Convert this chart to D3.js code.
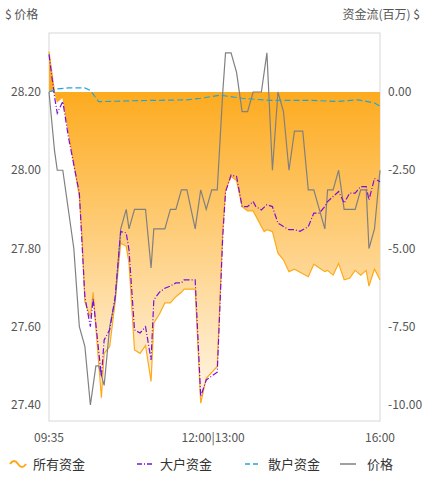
<!DOCTYPE html>
<html><head><meta charset="utf-8">
<script src="https://cdn.jsdelivr.net/npm/d3@7"></script>
<style>body{margin:0;background:#fff}text{font-family:"Noto Sans CJK SC","Noto Sans",sans-serif}</style>
</head><body><svg id="c" width="425" height="481"></svg>
<script>
// data; t = slot index 0..120 along the time axis
var xTicks = [[0, "09:35"], [59.5, "12:00|13:00"], [120, "16:00"]]
var priceTicks = [28.2, 28.0, 27.8, 27.6, 27.4]
var flowTicks = [0, -2.5, -5, -7.5, -10]
var legendNames = ["所有资金", "大户资金", "散户资金", "价格"]
var allFlow = [[0,1.29],[2,0],[3,-0.31],[5,-0.15],[7,-1.21],[11,-3.34],[12,-4.62],[13,-6.7],[15,-7.2],[16,-6.4],[19,-9.77],[20,-8.35],[22,-8.13],[24,-6.7],[26,-4.83],[28,-4.93],[29,-5.46],[31,-8.24],[33,-8.35],[35,-8.1],[37,-9.25],[38,-7.38],[40,-7.1],[42,-6.74],[44,-6.74],[46,-6.54],[48,-6.4],[49,-6.3],[53,-6.3],[55,-9.94],[57,-9.15],[61,-8.77],[63,-4.4],[64,-3.13],[66,-2.7],[68,-2.83],[70,-3.66],[72,-3.8],[74,-3.8],[78,-4.46],[79,-4.4],[81,-4.46],[83,-5.15],[85,-5.36],[87,-5.74],[89,-5.66],[94,-5.9],[96,-5.5],[100,-5.74],[101,-5.7],[103,-5.85],[105,-5.48],[107,-6.0],[109,-5.95],[111,-5.7],[113,-5.85],[115,-5.7],[116,-6.2],[118,-5.66],[120,-6.0]]
var bigFlow = [[0,1.2],[2,-0.15],[3,-0.68],[5,-0.3],[7,-1.42],[11,-3.23],[13,-6.54],[15,-7.5],[16,-6.6],[19,-9.09],[20,-7.92],[22,-7.6],[24,-6.54],[26,-4.46],[28,-4.5],[29,-5.05],[31,-7.6],[33,-7.7],[35,-7.5],[37,-8.56],[38,-6.64],[40,-6.4],[42,-6.27],[44,-6.2],[46,-6.1],[48,-6.1],[49,-6.0],[53,-6.0],[55,-9.73],[57,-9.2],[61,-8.95],[63,-4.6],[64,-3.2],[66,-2.65],[68,-2.7],[70,-3.66],[72,-3.66],[74,-3.5],[75,-3.66],[77,-3.77],[79,-3.6],[81,-3.66],[83,-4.19],[85,-4.3],[87,-4.4],[89,-4.4],[91,-4.45],[94,-4.3],[96,-3.87],[98,-3.87],[100,-3.66],[101,-3.5],[103,-3.34],[105,-3.18],[107,-3.55],[109,-3.23],[111,-3.23],[113,-3.02],[115,-3.02],[116,-3.45],[118,-2.76],[120,-2.87]]
var retailFlow = [[0,0],[3,0.1],[7,0.13],[13,0.13],[15,0.05],[18,-0.31],[30,-0.28],[50,-0.25],[55,-0.2],[62,-0.1],[70,-0.2],[80,-0.27],[95,-0.27],[105,-0.3],[112,-0.25],[118,-0.35],[120,-0.45]]
var price = [[0,28.2],[2,28.05],[3,28.0],[5,28.0],[9,27.8],[11,27.6],[13,27.55],[15,27.4],[17,27.5],[18,27.5],[20,27.45],[22,27.6],[24,27.67],[26,27.85],[28,27.9],[29,27.85],[31,27.9],[35,27.9],[37,27.75],[38,27.85],[42,27.85],[44,27.9],[46,27.9],[48,27.95],[50,27.95],[53,27.85],[55,27.95],[57,27.9],[59,27.95],[61,27.95],[63,28.2],[64,28.3],[66,28.3],[68,28.25],[70,28.15],[72,28.15],[74,28.2],[77,28.2],[79,28.3],[81,28.0],[83,28.2],[85,28.15],[87,28.0],[89,28.1],[92,28.1],[94,27.95],[96,27.95],[100,27.85],[101,27.95],[103,27.95],[105,28.0],[107,27.9],[111,27.9],[113,27.95],[115,27.95],[116,27.8],[118,27.85],[120,28.0]]

var svg = d3.select("#c")
var L = 49, R = 380, T = 33, B = 421
var x = d3.scaleLinear().domain([0, 120]).range([L, R])
var yP = d3.scaleLinear().domain([27.4, 28.2]).range([405, 92])
var yF = d3.scaleLinear().domain([-10, 0]).range([405, 92])

var grad = svg.append("defs").append("linearGradient").attr("id", "g")
   .attr("gradientUnits", "userSpaceOnUse").attr("x1", 0).attr("x2", 0).attr("y1", yF(0)).attr("y2", yF(-10))
grad.append("stop").attr("offset", 0).attr("stop-color", "#fdab1f")
grad.append("stop").attr("offset", 1).attr("stop-color", "#fff7ea")

svg.append("rect").attr("x", L).attr("y", T).attr("width", R - L).attr("height", B - T)
   .attr("fill", "none").attr("stroke", "#d8d8d8")

svg.append("path").datum(allFlow).attr("fill", "url(#g)")
   .attr("d", d3.area().x(d => x(d[0])).y0(yF(0)).y1(d => yF(d[1])))
svg.append("path").datum(allFlow).attr("fill", "none").attr("stroke", "#ffa91a").attr("stroke-width", 1.2)
   .attr("d", d3.line().x(d => x(d[0])).y(d => yF(d[1])))
svg.append("path").datum(price).attr("fill", "none").attr("stroke", "#808080").attr("stroke-width", 1.2)
   .attr("d", d3.line().x(d => x(d[0])).y(d => yP(d[1])))
svg.append("path").datum(bigFlow).attr("fill", "none").attr("stroke", "#7a10d8").attr("stroke-width", 1.2)
   .attr("stroke-dasharray", "6,2,1,2")
   .attr("d", d3.line().x(d => x(d[0])).y(d => yF(d[1])))
svg.append("path").datum(retailFlow).attr("fill", "none").attr("stroke", "#21a6d4").attr("stroke-width", 1.2)
   .attr("stroke-dasharray", "6,3")
   .attr("d", d3.line().x(d => x(d[0])).y(d => yF(d[1])))

var lbl = {fill: "#555", "font-size": 12}
priceTicks.forEach(function(v){
   svg.append("text").attr("x", 41).attr("y", yP(v) + 4).attr("text-anchor", "end")
      .attr("fill", "#555").attr("font-size", 12).text(v.toFixed(2))
})
flowTicks.forEach(function(v){
   svg.append("text").attr("x", 388).attr("y", yF(v) + 4)
      .attr("fill", "#555").attr("font-size", 12).text(v.toFixed(2))
})
xTicks.forEach(function(t, i){
   svg.append("text").attr("x", x(t[0])).attr("y", 442)
      .attr("text-anchor", i == 0 ? "middle" : i == 2 ? "middle" : "middle")
      .attr("fill", "#555").attr("font-size", 12).text(t[1])
})
svg.append("text").attr("x", 5).attr("y", 19).attr("fill", "#555").attr("font-size", 12).text("$ 价格")
svg.append("text").attr("x", 420).attr("y", 19).attr("text-anchor", "end").attr("fill", "#555").attr("font-size", 12).text("资金流(百万) $")

// legend
var lx = [10, 137, 245, 340]
var lg = svg.append("g").attr("transform", "translate(0,464)")
lg.append("path").attr("d", "M" + lx[0] + ",0 q4,-6 8,0 t8,0").attr("fill", "none").attr("stroke", "#ffa91a").attr("stroke-width", 2)
lg.append("line").attr("x1", lx[1]).attr("x2", lx[1] + 16).attr("stroke", "#7a10d8").attr("stroke-width", 1.5).attr("stroke-dasharray", "5,2,1,2")
lg.append("line").attr("x1", lx[2]).attr("x2", lx[2] + 16).attr("stroke", "#21a6d4").attr("stroke-width", 1.5).attr("stroke-dasharray", "5,3")
lg.append("line").attr("x1", lx[3]).attr("x2", lx[3] + 16).attr("stroke", "#808080").attr("stroke-width", 1.5)
legendNames.forEach(function(n, i){
   lg.append("text").attr("x", lx[i] + (i == 3 ? 27 : 23)).attr("y", 5).attr("fill", "#333").attr("font-size", 13).text(n)
})
</script></body></html>
